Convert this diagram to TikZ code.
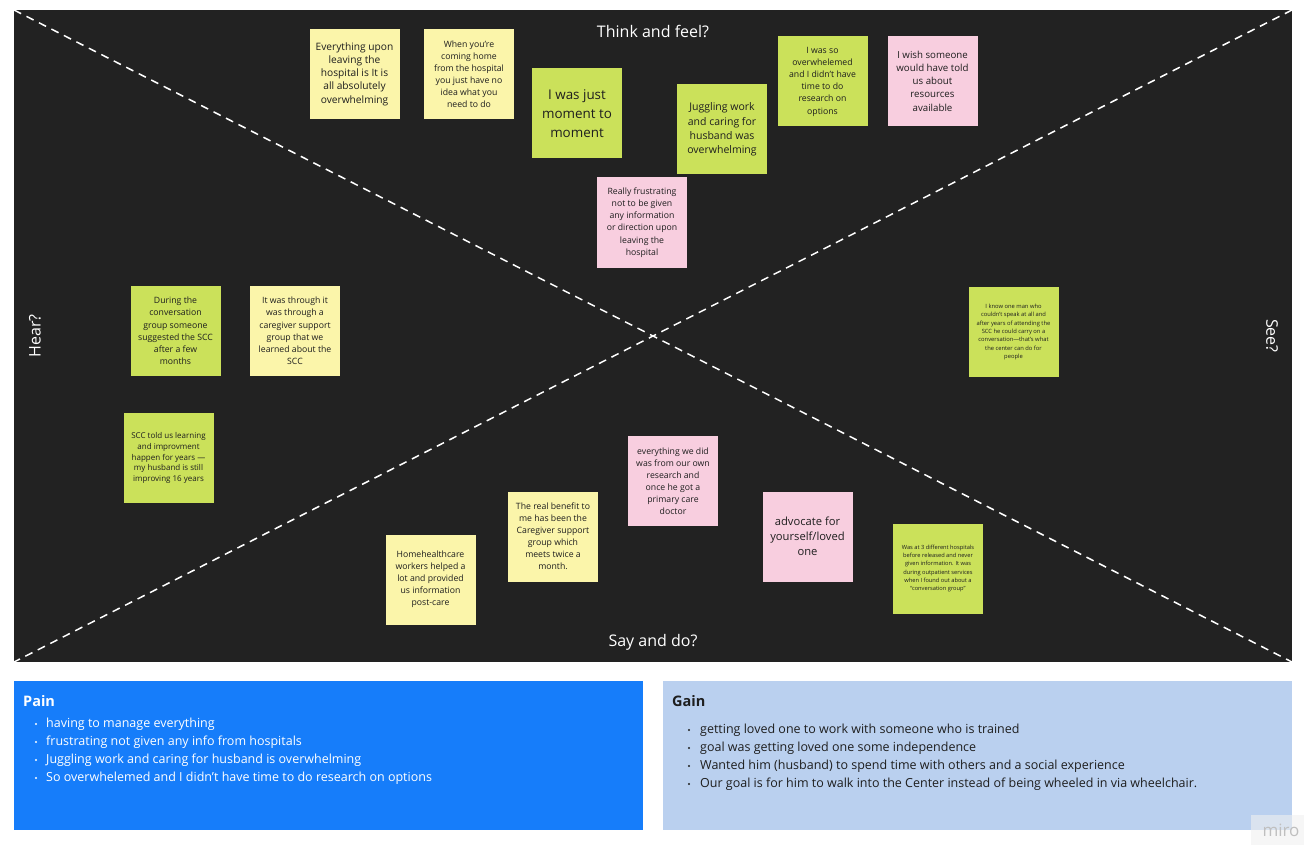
\documentclass[tikz,border=0pt]{standalone}
\usepackage{fontspec}
\setmainfont{Open Sans}
\definecolor{board}{HTML}{222222}
\definecolor{stY}{HTML}{FBF5AA}
\definecolor{stG}{HTML}{CBE15A}
\definecolor{stP}{HTML}{F8CEDF}
\definecolor{painC}{HTML}{167DFA}
\definecolor{gainC}{HTML}{BAD0EF}
\definecolor{inkC}{HTML}{1E1E1E}
\newcommand{\stfs}[2]{\fontsize{#1}{#2}\selectfont}
\tikzset{
  sticky/.style={minimum width=90pt, minimum height=90pt, inner sep=0pt, align=center, text=inkC},
  yel/.style={sticky, fill=stY},
  grn/.style={sticky, fill=stG},
  pnk/.style={sticky, fill=stP},
  dline/.style={draw=white, line width=1.5pt, dash pattern=on 8pt off 6pt},
  quad/.style={text=white, font=\stfs{16}{19}},
  bul/.style={anchor=west, inner sep=0pt, font=\stfs{12.5}{15}},
  ttl/.style={anchor=west, inner sep=0pt, font=\bfseries\stfs{14.5}{17}},
}
\begin{document}
\begin{tikzpicture}[x=1pt,y=-1pt]
\useasboundingbox (0,0) rectangle (1313,853);
\fill[white] (0,0) rectangle (1313,853);
% board
\fill[board] (14,10) rectangle (1292,662);
\coordinate (tl) at (14,10);
\coordinate (tr) at (1292,10);
\coordinate (bl) at (14,662);
\coordinate (br) at (1292,662);
\draw[dline] (tl) -- (br);
\draw[dline] (tr) -- (bl);
% quadrant labels
\node[quad] (think) at (653,31) {Think and feel?};
\node[quad] (say) at (653,642) {Say and do?};
\node[quad, rotate=90] (hear) at (35,336) {Hear?};
\node[quad, rotate=-90] (see) at (1272,336) {See?};
% stickies
\node[yel, font=\stfs{10.2}{13.3}] (s1) at (354.5,74) {Everything upon\\leaving the\\hospital is It is\\all absolutely\\overwhelming};
\node[yel, font=\stfs{8.7}{12}] (s2) at (469,74) {When you're\\coming home\\from the hospital\\you just have no\\idea what you\\need to do};
\node[grn, font=\stfs{13.4}{19}] (s3) at (577,113.5) {I was just\\moment to\\moment};
\node[grn, font=\stfs{10.5}{14.3}] (s4) at (722,129.5) {Juggling work\\and caring for\\husband was\\overwhelming};
\node[grn, font=\stfs{8.7}{12.2}] (s5) at (822.5,81.5) {I was so\\overwhelemed\\and I didn't have\\time to do\\research on\\options};
\node[pnk, font=\stfs{9.7}{13.3}] (s6) at (932.5,81) {I wish someone\\would have told\\us about\\resources\\available};
\node[pnk, font=\stfs{8.7}{12.2}] (s7) at (642,222.5) {Really frustrating\\not to be given\\any information\\or direction upon\\leaving the\\hospital};
\node[grn, font=\stfs{8.7}{12.2}] (s8) at (175.5,331) {During the\\conversation\\group someone\\suggested the SCC\\after a few\\months};
\node[yel, font=\stfs{8.7}{12.2}] (s9) at (295,331) {It was through it\\was through a\\caregiver support\\group that we\\learned about the\\SCC};
\node[grn, font=\stfs{8}{10.6}] (s10) at (168.5,458) {SCC told us learning\\and improvment\\happen for years ---\\my husband is still\\improving 16 years};
\node[grn, font=\stfs{5.8}{8.3}] (s11) at (1013.5,332) {I know one man who\\couldn't speak at all and\\after years of attending the\\SCC he could carry on a\\conversation---that's what\\the center can do for\\people};
\node[grn, font=\stfs{5.7}{8.1}] (s12) at (938,568.5) {Was at 3 different hospitals\\before released and never\\given information. It was\\during outpatient services\\when I found out about a\\``conversation group''};
\node[yel, font=\stfs{8.7}{12}] (s13) at (430.5,579.5) {Homehealthcare\\workers helped a\\lot and provided\\us information\\post-care};
\node[yel, font=\stfs{8.7}{12}] (s14) at (553,536.5) {The real benefit to\\me has been the\\Caregiver support\\group which\\meets twice a\\month.};
\node[pnk, font=\stfs{8.7}{12}] (s15) at (673,481) {everything we did\\was from our own\\research and\\once he got a\\primary care\\doctor};
\node[pnk, font=\stfs{11.2}{15}] (s16) at (807.5,536.5) {advocate for\\yourself/loved\\one};
% Pain box
\fill[painC] (14,681) rectangle (643,830);
\node[ttl, text=white] (pain) at (23,701) {Pain};
\foreach \t [count=\i] in {having to manage everything, frustrating not given any info from hospitals, Juggling work and caring for husband is overwhelming, So overwhelemed and I didn't have time to do research on options}{
  \fill[white] (36,706+18*\i) circle (1.1pt);
  \node[bul, text=white] (p\i) at (46,706+18*\i) {\t};
}
% Gain box
\fill[gainC] (663,681) rectangle (1292,830);
\node[ttl, text=inkC] (gain) at (672,701) {Gain};
\foreach \t [count=\i] in {getting loved one to work with someone who is trained, goal was getting loved one some independence, Wanted him (husband) to spend time with others and a social experience, Our goal is for him to walk into the Center instead of being wheeled in via wheelchair.}{
  \fill[inkC] (689,712+18*\i) circle (1.1pt);
  \node[bul, text=inkC] (g\i) at (700,712+18*\i) {\t};
}
% miro mark
\fill[white!94!black, opacity=0.6] (1251,815) rectangle (1304,845);
\node[text=black!25, font=\stfs{17}{19}] (miro) at (1281,830) {miro};
\end{tikzpicture}
\end{document}
